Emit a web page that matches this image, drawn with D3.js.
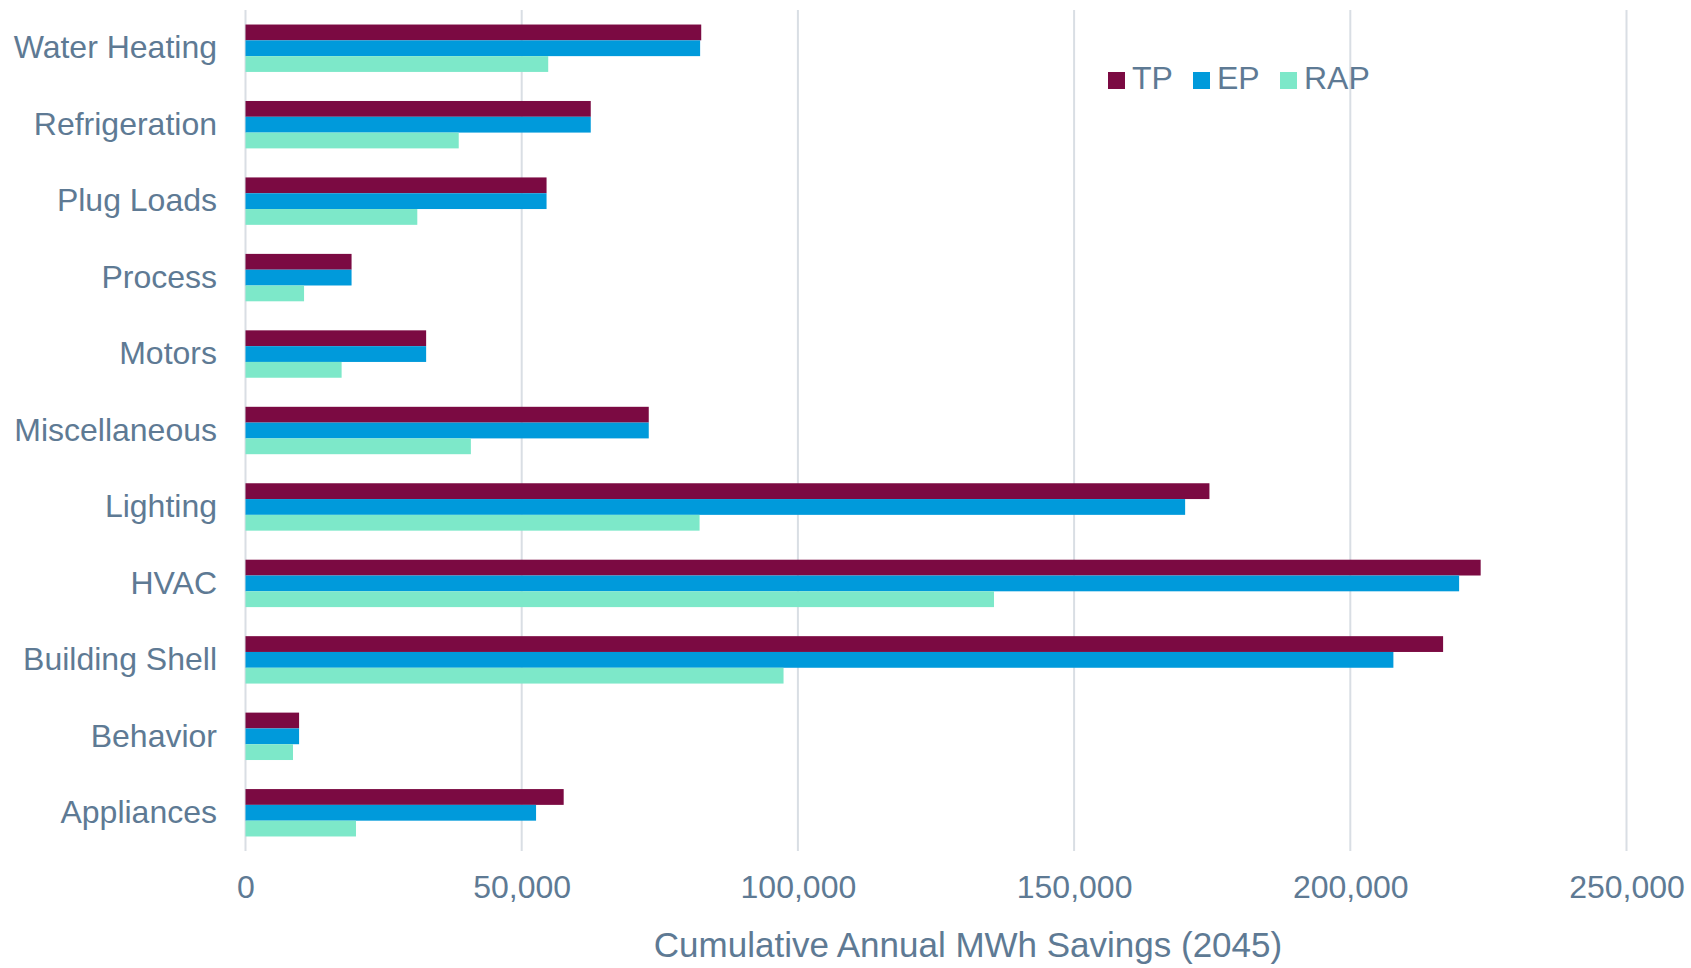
<!DOCTYPE html>
<html>
<head>
<meta charset="utf-8">
<script src="https://cdn.jsdelivr.net/npm/d3@7"></script>
<style>
  html, body { margin: 0; padding: 0; background: #ffffff; }
  svg { display: block; }
  text { font-family: "Liberation Sans", Arial, sans-serif; fill: #5E7A94; }
</style>
</head>
<body>
<svg id="chart" width="1691" height="968"></svg>
<script>
// Categories, top to bottom as drawn
const categories = ["Water Heating", "Refrigeration", "Plug Loads", "Process", "Motors",
  "Miscellaneous", "Lighting", "HVAC", "Building Shell", "Behavior", "Appliances"];
const seriesNames = ["TP", "EP", "RAP"];
const tpValues  = [82500, 62500, 54500, 19200, 32700, 73000, 174500, 223600, 216800, 9700, 57600];
const epValues  = [82300, 62500, 54500, 19200, 32700, 73000, 170100, 219700, 207800, 9700, 52600];
const rapValues = [54800, 38600, 31100, 10600, 17400, 40800, 82200, 135500, 97400, 8600, 20000];
const xTicks = [0, 50000, 100000, 150000, 200000, 250000];
const seriesColors = ["#7B0A42", "#009ADB", "#7DE8C9"];
const xTitle = "Cumulative Annual MWh Savings (2045)";

const seriesValues = [tpValues, epValues, rapValues];
const data = categories.map((c, i) => ({
  category: c,
  values: seriesNames.map((s, k) => ({ series: s, value: seriesValues[k][i] }))
}));

const svg = d3.select("#chart");

const x = d3.scaleLinear().domain([0, 250000]).range([245.5, 1626.5]);
const y = d3.scaleBand().domain(categories).range([10, 851]).paddingInner(0.38).paddingOuter(0.19);
const ySub = d3.scaleBand().domain(seriesNames).range([0, y.bandwidth()]);
const color = d3.scaleOrdinal().domain(seriesNames).range(seriesColors);

// Gridlines
svg.append("g").selectAll("line").data(xTicks).join("line")
  .attr("x1", d => x(d)).attr("x2", d => x(d))
  .attr("y1", 10).attr("y2", 851)
  .attr("stroke", "#D9DEE4").attr("stroke-width", 2);

// Bars
const groups = svg.append("g").selectAll("g").data(data).join("g")
  .attr("transform", d => `translate(0,${y(d.category)})`);
groups.selectAll("rect").data(d => d.values).join("rect")
  .attr("x", x(0))
  .attr("y", d => ySub(d.series))
  .attr("width", d => x(d.value) - x(0))
  .attr("height", ySub.bandwidth())
  .attr("fill", d => color(d.series));

// Y axis labels
const yAxis = d3.axisLeft(y).tickSize(0).tickPadding(0);
const yG = svg.append("g").attr("transform", "translate(217,0)").call(yAxis);
yG.select(".domain").remove();
yG.selectAll("text").style("font-size", "32px").style("fill", "#5E7A94")
  .style("font-family", "'Liberation Sans', Arial, sans-serif");

// X axis labels
const xAxis = d3.axisBottom(x).tickValues(xTicks).tickSize(0).tickPadding(0)
  .tickFormat(d3.format(","));
const xG = svg.append("g").attr("transform", "translate(0,875)").call(xAxis);
xG.select(".domain").remove();
xG.selectAll("text").style("font-size", "32px").style("fill", "#5E7A94")
  .style("font-family", "'Liberation Sans', Arial, sans-serif");

// X axis title
svg.append("text")
  .attr("x", 968).attr("y", 957)
  .attr("text-anchor", "middle")
  .style("font-size", "35px")
  .text(xTitle);

// Legend
const legendX = [1108, 1193, 1280];
const legend = svg.append("g").selectAll("g").data(seriesNames).join("g")
  .attr("transform", (d, i) => `translate(${legendX[i]},72)`);
legend.append("rect").attr("width", 17).attr("height", 17).attr("fill", d => color(d));
legend.append("text").attr("x", 24).attr("y", 17).style("font-size", "32px").text(d => d);
</script>
</body>
</html>
